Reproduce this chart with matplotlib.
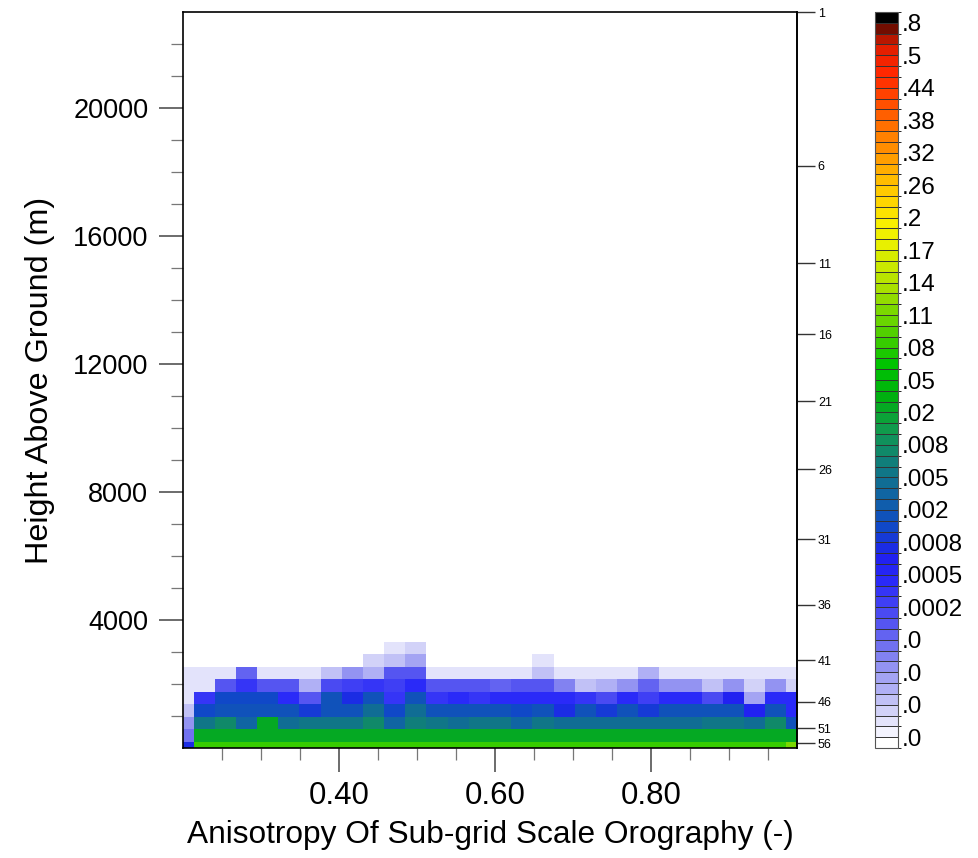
import numpy as np
import matplotlib
matplotlib.use('Agg')
import matplotlib.pyplot as plt
from matplotlib.colors import BoundaryNorm, LinearSegmentedColormap

plt.rcParams['font.family'] = ['Liberation Sans', 'DejaVu Sans']

# cell centres: sub-grid orography anisotropy bins and height bins (m)
anisotropy = np.linspace(0.2, 0.987, 30)
height_bins = np.arange(9) * 390.0

# mixing ratio per height bin (bottom row first), one value per anisotropy bin
row0 = [7.5e-4] + [0.085] * 28 + [0.115]
row1 = [7.5e-5] + [0.025] * 29
row2 = [5.5e-5, 5.5e-3, 7.5e-3, 3.5e-3, 0.022, 4.5e-3, 5.5e-3, 5.5e-3, 5.5e-3, 7.5e-3,
        3.5e-3, 6.5e-3, 5.5e-3, 4.5e-3, 5.5e-3, 5.5e-3, 3.5e-3, 5.5e-3, 4.5e-3, 4.5e-3,
        4.5e-3, 4.5e-3, 4.5e-3, 4.5e-3, 4.5e-3, 5.5e-3, 5.5e-3, 4.5e-3, 7.5e-3, 1.7e-3]
row3 = [2.5e-5, 1.2e-3, 1.7e-3, 1.7e-3, 1.7e-3, 1.7e-3, 9e-4, 1.7e-3, 1.7e-3, 4.5e-3,
        1.2e-3, 4.5e-3, 1.7e-3, 1.7e-3, 1.7e-3, 1.7e-3, 1.2e-3, 1.7e-3, 7.5e-4, 1.7e-3,
        9e-4, 1.7e-3, 9e-4, 1.7e-3, 1.7e-3, 1.7e-3, 1.7e-3, 6.5e-4, 1.7e-3, 4.5e-4]
row4 = [1.2e-5, 3.5e-4, 1.2e-3, 1.2e-3, 1.2e-3, 4.5e-4, 1.2e-4, 1.7e-3, 7.5e-4, 1.7e-3,
        3.5e-4, 1.7e-3, 3.5e-4, 4.5e-4, 3.5e-4, 4.5e-4, 4.5e-4, 4.5e-4, 4.5e-4, 3.5e-4,
        1.7e-4, 4.5e-4, 2.5e-4, 4.5e-4, 4.5e-4, 1.7e-4, 6.5e-4, 4.5e-5, 4.5e-4, 4.5e-4]
row5 = [1.2e-5, 1.2e-5, 1.2e-4, 3.5e-4, 1.2e-4, 1.2e-4, 3.5e-5, 1.7e-4, 2.5e-4, 3.5e-4,
        2.5e-4, 4.5e-4, 1.2e-4, 1.2e-4, 1.2e-4, 9e-5, 1.2e-4, 1.2e-4, 6.5e-5, 2.5e-5,
        3.5e-5, 5.5e-5, 9e-5, 5.5e-5, 5.5e-5, 2.5e-5, 5.5e-5, 1.7e-5, 5.5e-5, 1.7e-5]
row6 = [1.2e-5, 1.2e-5, 1.2e-5, 9e-5, 1.2e-5, 1.2e-5, 1.2e-5, 2.5e-5, 5.5e-5, 3.5e-5,
        1.2e-4, 1.2e-4, 1.2e-5, 1.2e-5, 1.2e-5, 1.2e-5, 1.2e-5, 2.5e-5, 1.2e-5, 1.2e-5,
        1.2e-5, 1.2e-5, 3.5e-5, 1.2e-5, 1.2e-5, 1.2e-5, 1.2e-5, 1.2e-5, 1.2e-5, 1.2e-5]
row7 = [0] * 9 + [1.7e-5, 2.5e-5, 4.5e-5] + [0] * 5 + [1.2e-5] + [0] * 12
row8 = [0] * 10 + [1.2e-5, 1.7e-5] + [0] * 18
mixing = np.array([row0, row1, row2, row3, row4, row5, row6, row7, row8])

# contour levels of the label bar
levels = [8e-6, 1e-5, 1.5e-5, 2e-5, 3e-5, 4e-5, 5e-5, 6e-5, 7e-5, 8e-5,
          1e-4, 1.5e-4, 2e-4, 3e-4, 4e-4, 5e-4, 6e-4, 7e-4, 8e-4, 1e-3,
          1.5e-3, 2e-3, 3e-3, 4e-3, 5e-3, 6e-3, 7e-3, 8e-3, 1e-2, 1.5e-2,
          0.02, 0.03, 0.04, 0.05, 0.06, 0.07, 0.08, 0.09, 0.10, 0.11,
          0.12, 0.13, 0.14, 0.15, 0.16, 0.17, 0.18, 0.19, 0.20, 0.22,
          0.24, 0.26, 0.28, 0.30, 0.32, 0.34, 0.36, 0.38, 0.40, 0.42,
          0.44, 0.46, 0.48, 0.50, 0.60, 0.70, 0.80]
level_labels = ['.0', '.0', '.0', '.0', '.0002', '.0005', '.0008', '.002', '.005',
                '.008', '.02', '.05', '.08', '.11', '.14', '.17', '.2', '.26', '.32',
                '.38', '.44', '.5', '.8']

# model level numbers on the right axis and their heights (m)
model_levels = [1, 6, 11, 16, 21, 26, 31, 36, 41, 46, 51, 56]
level_heights = [23000, 18200, 15150, 12930, 10840, 8710, 6520, 4470, 2750, 1450, 620, 150]

# white-blue-green-yellow-red table, capped with black
anchors = [(0, '#ffffff'), (1, '#f0f0fe'), (3, '#d0d0f8'), (6, '#a0a0f3'), (9, '#7070f0'),
           (12, '#4848f2'), (15, '#2a2af8'), (17, '#2020f0'), (20, '#1048c8'),
           (23, '#1066a0'), (26, '#107e7a'), (29, '#109c4a'), (32, '#00b010'),
           (35, '#00c400'), (38, '#50d000'), (42, '#a8e000'), (46, '#e8f000'),
           (48, '#f8f000'), (50, '#ffd800'), (54, '#ffa000'), (58, '#ff6000'),
           (62, '#ff2800'), (64, '#e82000'), (65, '#c01800'), (66, '#901000'),
           (67, '#000000')]
ncol = len(levels) + 1
base = LinearSegmentedColormap.from_list('wbgyr', [(k / (ncol - 1), c) for k, c in anchors])
cmap = matplotlib.colors.ListedColormap(base(np.linspace(0, 1, ncol)))
norm = BoundaryNorm([0.0] + levels + [1.0], ncolors=ncol)

fig = plt.figure(figsize=(9.79, 8.58), dpi=100)
ax = fig.add_axes([0.1869, 0.1282, 0.6272, 0.8578])
cax = fig.add_axes([0.8938, 0.1282, 0.0235, 0.8578])

mesh = ax.pcolormesh(anisotropy, height_bins, mixing, cmap=cmap, norm=norm,
                     shading='nearest')
ax.set_xlim(0.2, 0.987)
ax.set_ylim(0, 23000)

ax.set_xticks([0.4, 0.6, 0.8])
ax.set_xticklabels(['0.40', '0.60', '0.80'])
ax.set_xticks(np.arange(0.25, 0.96, 0.05), minor=True)
ax.set_yticks([4000, 8000, 12000, 16000, 20000])
ax.set_yticks(np.arange(1000, 22001, 1000), minor=True)
ax.tick_params(which='major', direction='out', length=17, width=1.1, labelsize=19.5,
               pad=8, top=False, right=False, color='#444444')
ax.tick_params(axis='x', which='major', labelsize=22.5, pad=7)
ax.tick_params(which='minor', direction='out', length=8.5, width=0.9, top=False,
               right=False, color='#777777')
for s in ax.spines.values():
    s.set_linewidth(1.2)

ax.set_xlabel('Anisotropy Of Sub-grid Scale Orography (-)', fontsize=22.8, labelpad=6)
ax.set_ylabel('Height Above Ground (m)', fontsize=23.3, labelpad=13)

# model levels on the right-hand side
rax = ax.twinx()
rax.set_ylim(ax.get_ylim())
rax.set_yticks(level_heights)
rax.set_yticklabels([str(v) for v in model_levels])
rax.tick_params(axis='y', direction='out', length=13, width=1.0, labelsize=9, pad=2,
                color='#333333')
for name, s in rax.spines.items():
    s.set_visible(name == 'right')
rax.spines['right'].set_linewidth(1.2)

cb = fig.colorbar(mesh, cax=cax, ticks=levels[::3], drawedges=True)
cb.ax.set_yticklabels(level_labels)
cb.ax.tick_params(length=0, labelsize=17.5, pad=3)
cb.outline.set_linewidth(0.8)
cb.outline.set_edgecolor('#555555')
cb.dividers.set_color('#333333')
cb.dividers.set_linewidth(0.7)

fig.savefig('out.png', dpi=100)
